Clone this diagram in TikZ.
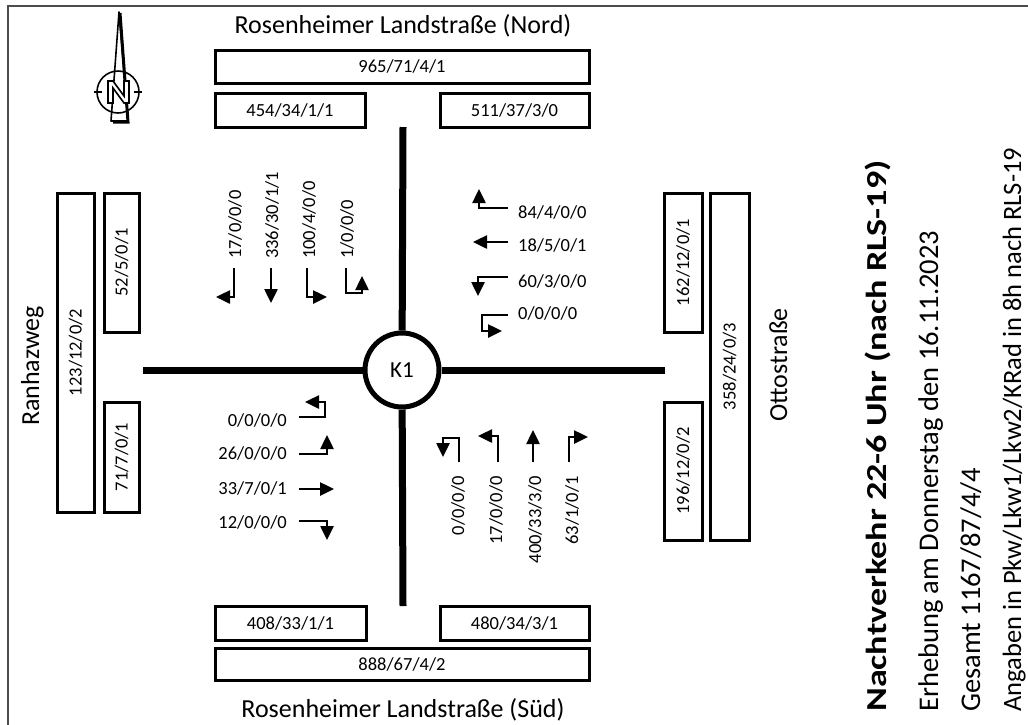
\documentclass[tikz,border=0pt]{standalone}
\usepackage{fontspec}
\setmainfont{Carlito}
\usetikzlibrary{arrows.meta}
\newcommand\numfont{\fontsize{18.5}{22}\selectfont}
\newcommand\roadfont{\fontsize{26}{30}\selectfont}
\newcommand\infofont{\fontsize{26.5}{30}\selectfont}
\begin{document}
\begin{tikzpicture}[x=1pt,y=-1pt,
  box/.style={draw, line width=3pt, inner sep=0pt, font=\numfont},
  lbl/.style={inner sep=0pt, font=\numfont},
  mv/.style={line width=2.5pt, -{Triangle[width=13pt,length=14pt]}},
  road/.style={line width=7pt},
  roadname/.style={inner sep=0pt, font=\roadfont, anchor=base},
  info/.style={inner sep=0pt, font=\infofont, rotate=90, anchor=base west},
  cmp/.style={line width=1.6pt, line join=round}
]
\useasboundingbox (0,0) rectangle (1028,724);
\draw[black!70, line width=2pt] (8,6) rectangle (1040,740);

% compass
\filldraw[cmp, fill=white] (119,12) -- (111,121) -- (128,121) -- cycle;
\draw[line width=3pt] (120,13) -- (128,122) -- (113,122);
\draw[cmp] (118,92) circle (21);
\draw[cmp] (94,92) -- (102,92) (134,92) -- (142,92);
\filldraw[line width=1.6pt, fill=white, line join=miter] (108,103) -- (108,81) -- (113,81) -- (124,96) -- (124,81) -- (129,81) -- (129,103) -- (124,103) -- (113,88) -- (113,103) -- cycle;

% road names
\node[roadname] (tN) at (403,33) {Rosenheimer Landstraße (Nord)};
\node[roadname] (tS) at (403,717) {Rosenheimer Landstraße (Süd)};
\node[roadname, rotate=90] (tW) at (39,366) {Ranhazweg};
\node[roadname, rotate=90] (tE) at (787,365) {Ottostraße};

% boxes north
\node[box, minimum width=374pt, minimum height=33pt] (bN) at (402,66.5) {965/71/4/1};
\node[box, minimum width=150pt, minimum height=34pt] (bNl) at (290,110) {454/34/1/1};
\node[box, minimum width=149pt, minimum height=34pt] (bNr) at (514.5,110) {511/37/3/0};
% boxes south
\node[box, minimum width=151pt, minimum height=34pt] (bSl) at (290.5,623) {408/33/1/1};
\node[box, minimum width=149pt, minimum height=34pt] (bSr) at (514.5,623) {480/34/3/1};
\node[box, minimum width=374pt, minimum height=32pt] (bS) at (402,664) {888/67/4/2};
% boxes west
\node[box, rotate=90, minimum width=319pt, minimum height=37pt] (bW) at (75.5,352.5) {123/12/0/2};
\node[box, rotate=90, minimum width=139pt, minimum height=35pt] (bWu) at (121.5,262.5) {52/5/0/1};
\node[box, rotate=90, minimum width=110pt, minimum height=35pt] (bWl) at (121.5,457) {71/7/0/1};
% boxes east
\node[box, rotate=90, minimum width=139pt, minimum height=38pt] (bEu) at (683,262.5) {162/12/0/1};
\node[box, rotate=90, minimum width=347pt, minimum height=39pt] (bE) at (729.5,366.5) {358/24/0/3};
\node[box, rotate=90, minimum width=138pt, minimum height=38pt] (bEl) at (683,471) {196/12/0/2};

% intersection
\node[circle, draw, line width=5pt, minimum size=74pt, inner sep=0pt, font=\fontsize{23}{26}\selectfont] (k1) at (402,370) {K1};
\coordinate (rN) at (403,127);
\coordinate (rS) at (403,606);
\coordinate (rW) at (143,370);
\coordinate (rE) at (665,370);
\draw[road] (rN) -- (k1);
\draw[road] (rS) -- (k1);
\draw[road] (rW) -- (k1);
\draw[road] (rE) -- (k1);

% north approach
\draw[mv] (234,268) -- (234,297) -- (216,297);
\draw[mv] (271,268) -- (271,303);
\draw[mv] (307,268) -- (307,297) -- (327,297);
\draw[mv] (346,268) -- (346,293) -- (362,293) -- (362,276);
\node[lbl, rotate=90, anchor=west] (n1) at (235,259) {17/0/0/0};
\node[lbl, rotate=90, anchor=west] (n2) at (272,259) {336/30/1/1};
\node[lbl, rotate=90, anchor=west] (n3) at (309,259) {100/4/0/0};
\node[lbl, rotate=90, anchor=west] (n4) at (347,259) {1/0/0/0};

% east approach
\draw[mv] (508,208) -- (479,208) -- (479,189);
\draw[mv] (508,242) -- (473,242);
\draw[mv] (508,277) -- (478,277) -- (478,296);
\draw[mv] (508,315) -- (482,315) -- (482,331) -- (502,331);
\node[lbl, anchor=west] (e1) at (518,212) {84/4/0/0};
\node[lbl, anchor=west] (e2) at (518,245) {18/5/0/1};
\node[lbl, anchor=west] (e3) at (518,281) {60/3/0/0};
\node[lbl, anchor=west] (e4) at (518,313) {0/0/0/0};

% west approach
\draw[mv] (299,417) -- (325,417) -- (325,402) -- (305,402);
\draw[mv] (299,454) -- (327,454) -- (327,435);
\draw[mv] (299,489) -- (334,489);
\draw[mv] (299,521) -- (327,521) -- (327,540);
\node[lbl, anchor=east] (w1) at (287,420) {0/0/0/0};
\node[lbl, anchor=east] (w2) at (287,453) {26/0/0/0};
\node[lbl, anchor=east] (w3) at (287,488) {33/7/0/1};
\node[lbl, anchor=east] (w4) at (287,522) {12/0/0/0};

% south approach
\draw[mv] (459,462) -- (459,438) -- (443,438) -- (443,457);
\draw[mv] (498,462) -- (498,436) -- (478,436);
\draw[mv] (533,462) -- (533,430);
\draw[mv] (569,462) -- (569,437) -- (588,437);
\node[lbl, rotate=90, anchor=east] (s1) at (458,476) {0/0/0/0};
\node[lbl, rotate=90, anchor=east] (s2) at (496,476) {17/0/0/0};
\node[lbl, rotate=90, anchor=east] (s3) at (535,476) {400/33/3/0};
\node[lbl, rotate=90, anchor=east] (s4) at (572,476) {63/1/0/1};

% info texts
\node[info, xscale=1.245, font=\fontsize{29}{33}\selectfont\bfseries] (i1) at (886,712) {Nachtverkehr 22-6 Uhr (nach RLS-19)};
\node[info, font=\fontsize{28.5}{33}\selectfont] (i2) at (938,712) {Erhebung am Donnerstag den 16.11.2023};
\node[info, font=\fontsize{28.5}{33}\selectfont] (i3) at (980,712) {Gesamt 1167/87/4/4};
\node[info] (i4) at (1021,712) {Angaben in Pkw/Lkw1/Lkw2/KRad in 8h nach RLS-19};
\end{tikzpicture}
\end{document}
